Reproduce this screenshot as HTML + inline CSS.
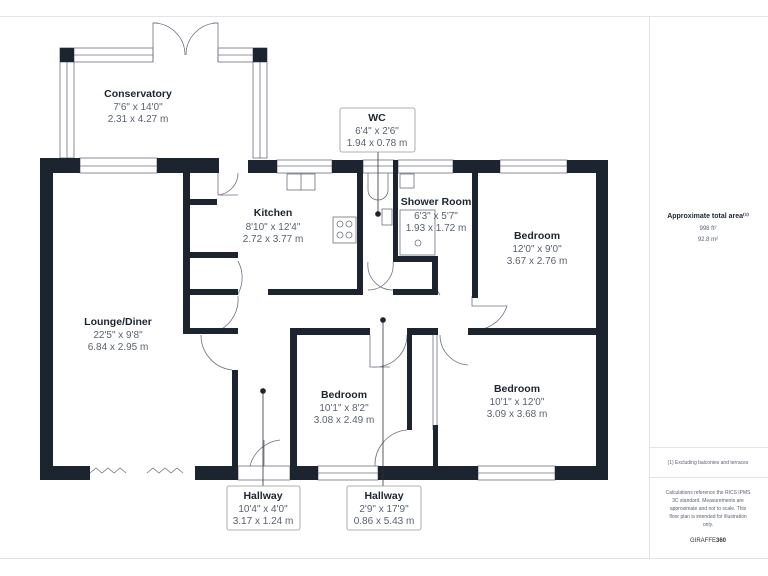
<!DOCTYPE html>
<html><head><meta charset="utf-8"><style>
html,body{margin:0;padding:0;background:#fff;}
svg{display:block;font-family:"Liberation Sans",sans-serif;}
.t{font-weight:bold;fill:#1c2430;font-size:10.5px;text-anchor:middle}
.d{fill:#5a6270;font-size:10px;text-anchor:middle}
.w{fill:#1c2430}
.l{fill:none;stroke:#6b7280;stroke-width:0.8}
</style></head><body>
<svg width="768" height="576" viewBox="0 0 768 576">
<line x1="0" y1="16.5" x2="768" y2="16.5" stroke="#e2e4e8"/>
<line x1="0" y1="558.5" x2="768" y2="558.5" stroke="#e2e4e8"/>
<line x1="649.5" y1="16" x2="649.5" y2="558" stroke="#e2e4e8"/>
<line x1="649" y1="447.5" x2="768" y2="447.5" stroke="#e2e4e8"/>
<line x1="649" y1="477.5" x2="768" y2="477.5" stroke="#e2e4e8"/>
<text x="708" y="218" class="t" style="font-size:7px">Approximate total area⁽¹⁾</text>
<text x="708" y="230" class="d" style="font-size:6px">998 ft²</text>
<text x="708" y="241" class="d" style="font-size:6px">92.8 m²</text>
<text x="708" y="464" class="d" style="font-size:5px">(1) Excluding balconies and terraces</text>
<text class="d" style="font-size:5px"><tspan x="708" y="494">Calculations reference the RICS IPMS</tspan><tspan x="708" y="502">3C standard. Measurements are</tspan><tspan x="708" y="510">approximate and not to scale. This</tspan><tspan x="708" y="518">floor plan is intended for illustration</tspan><tspan x="708" y="526">only.</tspan></text>
<text x="708" y="542" class="d" style="font-size:6px;fill:#333">GIRAFFE<tspan font-weight="bold">360</tspan></text>

<!-- conservatory -->
<g class="l">
<rect x="60" y="48" width="93" height="14"/><line x1="60" y1="55" x2="153" y2="55"/>
<rect x="218" y="48" width="48" height="14"/><line x1="218" y1="55" x2="266" y2="55"/>
<rect x="60" y="48" width="14" height="110"/><line x1="67" y1="48" x2="67" y2="158"/>
<rect x="253" y="48" width="14" height="110"/><line x1="260" y1="48" x2="260" y2="158"/>
<path d="M153 62 V23 A32 32 0 0 1 185 55 M218 62 V23 A32 32 0 0 0 186 55"/>
<line x1="153" y1="23" x2="158" y2="23"/><line x1="213" y1="23" x2="218" y2="23"/>
</g>
<rect class="w" x="60" y="48" width="14" height="14"/>
<rect class="w" x="253" y="48" width="14" height="14"/>

<!-- windows -->
<g class="l">
<rect x="80" y="158" width="77" height="15"/><line x1="80" y1="166" x2="157" y2="166"/>
<rect x="277" y="160" width="55" height="13"/><line x1="277" y1="166" x2="332" y2="166"/>
<rect x="363" y="160" width="31" height="13"/><line x1="363" y1="166" x2="394" y2="166"/>
<rect x="398" y="160" width="55" height="13"/><line x1="398" y1="166" x2="453" y2="166"/>
<rect x="500" y="160" width="67" height="13"/><line x1="500" y1="166" x2="567" y2="166"/>
<rect x="318" y="466" width="60" height="14"/><line x1="318" y1="473" x2="378" y2="473"/>
<rect x="478" y="466" width="77" height="14"/><line x1="478" y1="473" x2="555" y2="473"/>
<rect x="238" y="466" width="52" height="14"/>
<path d="M90 473 l6 -5 6 5 6 -5 6 5 6 -5 6 5 M147 473 l6 -5 6 5 6 -5 6 5 6 -5 6 5"/>
<path d="M218 173 v22 h20 M238 173 A22 22 0 0 1 218 195"/>
<path d="M201 335 A35 35 0 0 0 232 370"/>
<path d="M238 261 A35 35 0 0 1 238 294 M238 296 A35 35 0 0 1 220 330"/>
<path d="M250 466 A35 35 0 0 1 280 440 M264 466 V440"/>
<path d="M370 335 v32 h20 M407 335 A32 32 0 0 1 372 367"/>
<path d="M368 262 A25 25 0 0 0 393 290 M393 262 A25 25 0 0 1 368 290"/>
<path d="M437 262 A35 35 0 0 0 440 295 M472 296 v10 h35 A35 35 0 0 1 478 330"/>
<path d="M440 335 A30 30 0 0 0 468 365"/>
<path d="M375 466 A35 35 0 0 1 407 430"/>
<path d="M433 335 V430 M437 335 V430"/>
<rect x="287" y="174" width="28" height="16"/><line x1="301" y1="174" x2="301" y2="190"/>
<rect x="333" y="217" width="23" height="26"/>
<circle cx="340" cy="224" r="3"/><circle cx="349" cy="224" r="3"/><circle cx="340" cy="235" r="3"/><circle cx="349" cy="235" r="3"/>
<path d="M368 173 v17 a10 10 0 0 0 20 0 v-17"/>
<rect x="382" y="209" width="10" height="16"/>
<rect x="400" y="174" width="14" height="14"/>
<rect x="400" y="210" width="35" height="45"/>
<circle cx="418" cy="243" r="3"/>
</g>

<!-- walls -->
<g class="w">
<rect x="40" y="158" width="13" height="322"/>
<rect x="40" y="158" width="40" height="15"/>
<rect x="157" y="158" width="62" height="15"/>
<rect x="40" y="466" width="50" height="14"/>
<rect x="195" y="466" width="43" height="14"/>
<rect x="232" y="370" width="6" height="110"/>
<rect x="183" y="173" width="7" height="160"/>
<rect x="183" y="199" width="34" height="6"/>
<rect x="183" y="252" width="55" height="6"/>
<rect x="183" y="289" width="55" height="6"/>
<rect x="183" y="328" width="55" height="6"/>
<rect x="248" y="160" width="29" height="13"/>
<rect x="332" y="160" width="31" height="13"/>
<rect x="357" y="160" width="6" height="135"/>
<rect x="268" y="289" width="95" height="6"/>
<rect x="393" y="160" width="5" height="102"/>
<rect x="393" y="256" width="45" height="6"/>
<rect x="432" y="256" width="6" height="39"/>
<rect x="393" y="289" width="45" height="6"/>
<rect x="453" y="160" width="47" height="13"/>
<rect x="567" y="160" width="41" height="13"/>
<rect x="596" y="160" width="12" height="320"/>
<rect x="472" y="173" width="6" height="125"/>
<rect x="468" y="328" width="140" height="7"/>
<rect x="290" y="328" width="80" height="7"/>
<rect x="290" y="328" width="7" height="152"/>
<rect x="407" y="328" width="31" height="7"/>
<rect x="407" y="328" width="5" height="102"/>
<rect x="433" y="425" width="5" height="41"/>
<rect x="290" y="466" width="28" height="14"/>
<rect x="378" y="466" width="100" height="14"/>
<rect x="555" y="466" width="53" height="14"/>
</g>

<!-- label leaders -->
<g stroke="#333" stroke-width="0.8">
<line x1="378" y1="152" x2="378" y2="212"/><circle cx="378" cy="214" r="2.5" fill="#1c2430"/>
<line x1="383" y1="320" x2="383" y2="486"/><circle cx="383" cy="320" r="2.5" fill="#1c2430"/>
<line x1="263" y1="392" x2="263" y2="486"/><circle cx="263" cy="391" r="2.5" fill="#1c2430"/>
</g>
<g fill="#fff" stroke="#999" stroke-width="0.8">
<rect x="340" y="108" width="75" height="44" rx="2"/>
<rect x="227" y="486" width="73" height="44" rx="2"/>
<rect x="347" y="486" width="74" height="44" rx="2"/>
</g>
<text x="377" y="121" class="t">WC</text><text x="377" y="134" class="d">6'4" x 2'6"</text><text x="377" y="146" class="d">1.94 x 0.78 m</text>
<text x="263" y="499" class="t">Hallway</text><text x="263" y="512" class="d">10'4" x 4'0"</text><text x="263" y="524" class="d">3.17 x 1.24 m</text>
<text x="384" y="499" class="t">Hallway</text><text x="384" y="512" class="d">2'9" x 17'9"</text><text x="384" y="524" class="d">0.86 x 5.43 m</text>

<text x="138" y="97" class="t">Conservatory</text><text x="138" y="110" class="d">7'6" x 14'0"</text><text x="138" y="122" class="d">2.31 x 4.27 m</text>
<text x="273" y="216" class="t">Kitchen</text><text x="273" y="230" class="d">8'10" x 12'4"</text><text x="273" y="242" class="d">2.72 x 3.77 m</text>
<text x="118" y="325" class="t">Lounge/Diner</text><text x="118" y="338" class="d">22'5" x 9'8"</text><text x="118" y="350" class="d">6.84 x 2.95 m</text>
<text x="436" y="205" class="t">Shower Room</text><text x="436" y="219" class="d">6'3" x 5'7"</text><text x="436" y="231" class="d">1.93 x 1.72 m</text>
<text x="537" y="239" class="t">Bedroom</text><text x="537" y="252" class="d">12'0" x 9'0"</text><text x="537" y="264" class="d">3.67 x 2.76 m</text>
<text x="344" y="398" class="t">Bedroom</text><text x="344" y="411" class="d">10'1" x 8'2"</text><text x="344" y="423" class="d">3.08 x 2.49 m</text>
<text x="517" y="392" class="t">Bedroom</text><text x="517" y="405" class="d">10'1" x 12'0"</text><text x="517" y="417" class="d">3.09 x 3.68 m</text>
</svg>
</body></html>
